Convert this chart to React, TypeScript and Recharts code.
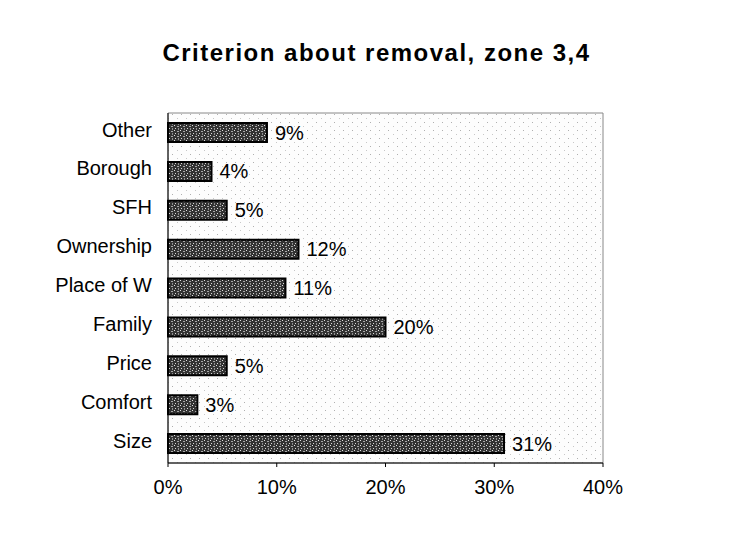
import React from "react";
import {
  BarChart,
  Bar,
  XAxis,
  YAxis,
  ReferenceArea,
  LabelList,
} from "recharts";

const categories = [
  "Other",
  "Borough",
  "SFH",
  "Ownership",
  "Place of W",
  "Family",
  "Price",
  "Comfort",
  "Size",
];
const shares = [9.1, 4.0, 5.4, 12.0, 10.8, 20.0, 5.4, 2.7, 30.9];
const xTicks = [0, 10, 20, 30, 40];

const data = categories.map((name, i) => ({ name, value: shares[i] }));

const font = "'Liberation Sans', Arial, sans-serif";

export default function App() {
  return (
    <div style={{ position: "absolute", left: 0, top: 0, width: 753, height: 539, background: "#fff" }}>
      <div
        style={{
          position: "absolute",
          left: 0,
          width: 753,
          top: 39,
          textAlign: "center",
          fontFamily: font,
          fontWeight: "bold",
          fontSize: 24,
          letterSpacing: 1.5,
          color: "#000",
        }}
      >
        Criterion about removal, zone 3,4
      </div>
      <BarChart
        width={753}
        height={539}
        data={data}
        layout="vertical"
        margin={{ top: 113, right: 150, bottom: 46, left: 8 }}
        barSize={19}
      >
        <defs>
          <pattern id="dots" width="9" height="8" patternUnits="userSpaceOnUse">
            <rect width="9" height="8" fill="#fdfdfd" />
            <rect x="1" y="2" width="1" height="1" fill="#b0b0b0" />
            <rect x="6" y="6" width="1" height="1" fill="#c8c8c8" />
          </pattern>
          <pattern id="speckle" width="6" height="5" patternUnits="userSpaceOnUse">
            <rect width="6" height="5" fill="#333" />
            <rect x="0" y="0" width="1" height="1" fill="#e0e0e0" />
            <rect x="3" y="1" width="2" height="1" fill="#a8a8a8" />
            <rect x="1" y="3" width="1" height="1" fill="#d8d8d8" />
            <rect x="4" y="3" width="1" height="2" fill="#909090" />
          </pattern>
        </defs>
        <ReferenceArea x1={0} x2={40} fill="url(#dots)" stroke="#888" strokeWidth={1} fillOpacity={1} />
        <XAxis
          type="number"
          domain={[0, 40]}
          ticks={xTicks}
          tickFormatter={(v: number) => `${v}%`}
          axisLine={{ stroke: "#000" }}
          tickLine={{ stroke: "#000" }}
          tickSize={4}
          tickMargin={13}
          height={30}
          tick={{ fill: "#000", fontSize: 20, fontFamily: font }}
        />
        <YAxis
          type="category"
          dataKey="name"
          width={160}
          axisLine={{ stroke: "#000" }}
          tickLine={false}
          tickMargin={10}
          tick={{ fill: "#000", fontSize: 20, fontFamily: font, dy: -3 }}
        />
        <Bar
          dataKey="value"
          fill="url(#speckle)"
          stroke="#000"
          strokeWidth={2}
          isAnimationActive={false}
        >
          <LabelList
            dataKey="value"
            position="right"
            offset={8}
            formatter={(v: number) => `${Math.round(v)}%`}
            style={{ fill: "#000", fontSize: 20, fontFamily: font }}
          />
        </Bar>
      </BarChart>
    </div>
  );
}
